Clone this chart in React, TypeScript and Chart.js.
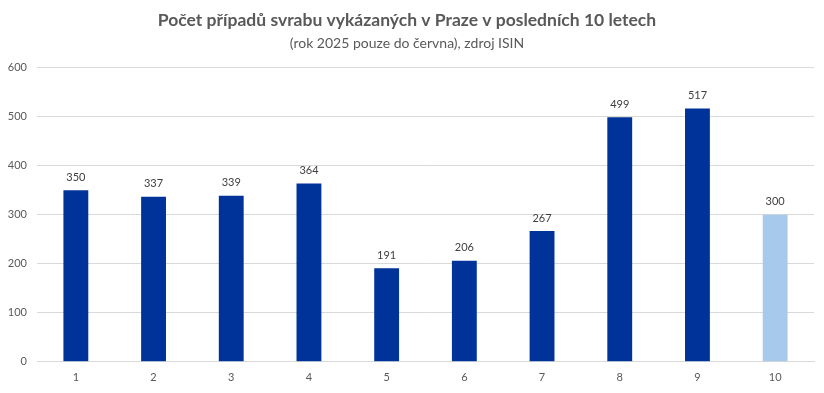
import React, { useEffect, useRef } from "react";
import { Chart, registerables } from "chart.js";

Chart.register(...registerables);

const categories = ["1", "2", "3", "4", "5", "6", "7", "8", "9", "10"];
const values = [350, 337, 339, 364, 191, 206, 267, 499, 517, 300];
const barColors = ["#003399", "#003399", "#003399", "#003399", "#003399", "#003399", "#003399", "#003399", "#003399", "#a6c9ec"];
const yTicks = [0, 100, 200, 300, 400, 500, 600];
const titleText = "Počet případů svrabu vykázaných v Praze v posledních 10 letech";
const subtitleText = "(rok 2025 pouze do června), zdroj ISIN";

const FONT = "Lato, 'Open Sans', sans-serif";

const labelPlugin = {
  id: "valueLabels",
  afterDatasetsDraw(chart: any) {
    const ctx = chart.ctx;
    const meta = chart.getDatasetMeta(0);
    ctx.save();
    ctx.font = `11px ${FONT}`;
    ctx.fillStyle = "#404040";
    ctx.textAlign = "center";
    ctx.textBaseline = "middle";
    meta.data.forEach((bar: any, i: number) => {
      ctx.fillText(String(values[i]), bar.x, bar.y - 13);
    });
    ctx.restore();
  },
};

export default function App() {
  const ref = useRef<HTMLCanvasElement | null>(null);
  useEffect(() => {
    if (!ref.current) return;
    const chart = new Chart(ref.current, {
      type: "bar",
      data: {
        labels: categories,
        datasets: [
          {
            data: values,
            backgroundColor: barColors,
            categoryPercentage: 1,
            barPercentage: 0.32,
          },
        ],
      },
      options: {
        animation: false,
        responsive: false,
        maintainAspectRatio: false,
        layout: { padding: { left: 0, right: 10, top: 0, bottom: 0 } },
        plugins: {
          legend: { display: false },
          tooltip: { enabled: false },
          title: {
            display: true,
            text: titleText,
            color: "#595959",
            font: { family: FONT, size: 17.5, weight: "bold", lineHeight: 1.2 },
            padding: { top: 10, bottom: 2 },
          },
          subtitle: {
            display: true,
            text: subtitleText,
            color: "#595959",
            font: { family: FONT, size: 14, lineHeight: 1.2 },
            padding: { top: 2, bottom: 16 },
          },
        },
        scales: {
          x: {
            grid: { display: false, drawTicks: false },
            border: { display: true, color: "#d9d9d9" },
            ticks: { color: "#595959", font: { family: FONT, size: 11 }, padding: 9 },
          },
          y: {
            min: 0,
            max: 600,
            afterBuildTicks: (scale: any) => {
              scale.ticks = yTicks.map((v) => ({ value: v }));
            },
            afterFit: (scale: any) => {
              scale.width = 37;
            },
            grid: { color: "#d9d9d9", drawTicks: false },
            border: { display: false },
            ticks: { color: "#595959", font: { family: FONT, size: 11 }, padding: 10 },
          },
        },
      },
      plugins: [labelPlugin],
    });
    return () => chart.destroy();
  }, []);
  return (
    <div style={{ position: "fixed", left: 0, top: 0, width: 824, height: 393, background: "#fff" }}>
      <canvas ref={ref} width={824} height={393} style={{ display: "block" }} />
    </div>
  );
}
